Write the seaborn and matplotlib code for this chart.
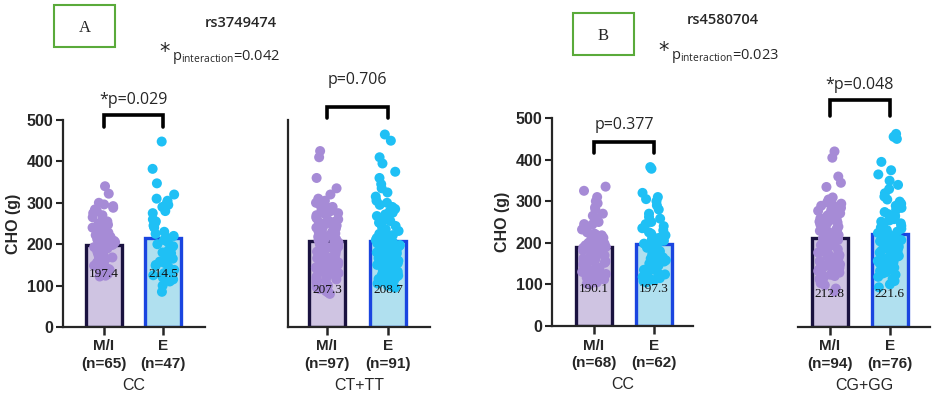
import numpy as np
import pandas as pd
import seaborn as sns
import matplotlib.pyplot as plt
from matplotlib.patches import Rectangle

# group labels and values
groups = ["M/I", "E"]
mi_color, e_color = "#a68bd6", "#1fc0f5"
bar_faces = ["#cdbfe7", "#a5e5fa"]
bar_edges = ["#1a1240", "#1a45e0"]

a_cc_mi = [340, 322, 300, 296, 292, 288, 284, 280, 275, 270, 265, 260, 255, 250, 247, 244, 240, 238, 235,
           232, 230, 228, 225, 222, 220, 218, 215, 212, 210, 208, 205, 202, 200, 198, 196, 193, 190, 188,
           185, 182, 180, 178, 175, 172, 170, 168, 165, 162, 160, 158, 155, 152, 150, 148, 145, 142, 140,
           138, 135, 132, 130, 128, 126, 124, 122]
a_cc_e = [448, 382, 347, 320, 310, 305, 298, 295, 290, 280, 275, 260, 255, 250, 245, 240, 230, 225, 220,
          215, 210, 205, 200, 195, 190, 185, 180, 178, 175, 170, 165, 160, 158, 155, 150, 148, 145, 140,
          138, 135, 130, 125, 120, 115, 110, 100, 85]
a_ct_mi = [425, 410, 360, 335, 320, 310, 305, 300, 295, 290, 288, 285, 282, 280, 275, 272, 270, 265, 262,
           260, 258, 255, 252, 250, 248, 245, 242, 240, 238, 235, 232, 230, 228, 226, 224, 222, 220, 218,
           216, 214, 212, 210, 208, 206, 204, 202, 200, 198, 196, 194, 192, 190, 188, 186, 184, 182, 180,
           178, 176, 174, 172, 170, 168, 166, 164, 162, 160, 158, 156, 154, 152, 150, 148, 146, 144, 142,
           140, 138, 135, 132, 130, 128, 125, 122, 120, 118, 115, 112, 110, 105, 100, 96, 92, 88, 85, 82, 80]
a_ct_e = [465, 450, 410, 395, 375, 360, 345, 335, 325, 315, 305, 300, 295, 290, 285, 280, 276, 272, 268,
          264, 260, 256, 252, 248, 244, 240, 236, 232, 228, 225, 222, 220, 218, 215, 212, 210, 208, 205,
          202, 200, 198, 196, 194, 192, 190, 188, 186, 184, 182, 180, 178, 176, 174, 172, 170, 168, 166,
          164, 162, 160, 158, 156, 154, 152, 150, 148, 146, 144, 142, 140, 138, 136, 134, 132, 130, 128,
          126, 124, 122, 120, 118, 116, 114, 112, 110, 108, 105, 102, 100, 98, 95]
b_cc_mi = [335, 325, 310, 300, 295, 285, 280, 270, 265, 260, 250, 245, 244, 240, 236, 232, 228, 225, 222,
           220, 218, 215, 212, 210, 208, 205, 202, 200, 198, 196, 194, 192, 190, 188, 186, 184, 182, 180,
           178, 175, 172, 170, 168, 165, 162, 160, 158, 155, 152, 150, 148, 145, 142, 140, 138, 135, 132,
           130, 128, 125, 122, 120, 116, 112, 108, 105, 102, 100]
b_cc_e = [382, 378, 320, 310, 305, 300, 290, 280, 270, 262, 258, 250, 245, 240, 235, 230, 225, 222, 218,
          215, 212, 208, 205, 202, 200, 198, 196, 194, 192, 190, 188, 186, 184, 182, 180, 176, 172, 168,
          165, 162, 160, 158, 155, 152, 150, 148, 145, 142, 140, 138, 135, 132, 130, 127, 124, 120, 118,
          115, 112, 110, 108, 105]
b_cg_mi = [420, 405, 360, 345, 335, 310, 305, 300, 298, 295, 292, 290, 288, 285, 282, 280, 278, 275, 272,
           270, 268, 265, 262, 260, 258, 255, 252, 250, 248, 245, 242, 240, 238, 235, 232, 230, 228, 225,
           222, 220, 218, 215, 212, 210, 208, 205, 202, 200, 198, 196, 194, 192, 190, 188, 186, 184, 182,
           180, 178, 176, 174, 172, 170, 168, 166, 164, 162, 160, 158, 156, 154, 152, 150, 148, 146, 144,
           142, 140, 138, 136, 134, 132, 130, 128, 125, 122, 120, 118, 115, 110, 105, 100, 92, 85]
b_cg_e = [462, 455, 450, 395, 375, 365, 350, 340, 330, 320, 312, 305, 300, 295, 290, 285, 280, 275, 270,
          266, 262, 258, 255, 252, 248, 245, 242, 238, 235, 232, 228, 225, 222, 220, 218, 215, 212, 210,
          208, 205, 202, 200, 198, 195, 192, 190, 188, 185, 182, 180, 178, 175, 172, 170, 168, 165, 162,
          160, 158, 155, 152, 150, 148, 145, 142, 140, 137, 134, 131, 128, 125, 120, 115, 110, 102, 95]

means = {"A_CC": [197.4, 214.5], "A_CT": [207.3, 208.7], "B_CC": [190.1, 197.3], "B_CG": [212.8, 221.6]}
ns = {"A_CC": [65, 47], "A_CT": [97, 91], "B_CC": [68, 62], "B_CG": [94, 76]}
genotypes = {"A_CC": "CC", "A_CT": "CT+TT", "B_CC": "CC", "B_CG": "CG+GG"}
pvals = {"A_CC": "*p=0.029", "A_CT": "p=0.706", "B_CC": "p=0.377", "B_CG": "*p=0.048"}
points = {"A_CC": (a_cc_mi, a_cc_e), "A_CT": (a_ct_mi, a_ct_e),
          "B_CC": (b_cc_mi, b_cc_e), "B_CG": (b_cg_mi, b_cg_e)}
label_y = {"A_CC": 128, "A_CT": 90, "B_CC": 88, "B_CG": 78}

sns.set_theme(style="ticks")
plt.rcParams["font.family"] = ["Liberation Sans", "DejaVu Sans"]

W, H = 935, 397
fig = plt.figure(figsize=(W / 100, H / 100), dpi=100)


def px_axes(left, right, top, bottom):
    return fig.add_axes([left / W, 1 - bottom / H, (right - left) / W, (bottom - top) / H])


# panel placement in pixels: (left, right, y=500 top, y=0 bottom, xlim, bracket top, bracket leg, p text y)
panels = {
    "A_CC": (63, 205, 120, 327, (-0.69, 1.71), 512, 483, 548, True),
    "A_CT": (288, 430, 120, 327, (-0.64, 1.69), 531, 505, 597, False),
    "B_CC": (552, 693, 118, 326, (-0.70, 1.65), 442, 416, 483, True),
    "B_CG": (798, 930, 118, 327, (-0.53, 1.67), 543, 505, 580, False),
}

np.random.seed(3)
for key, (l, r, t, b, xlim, btop, bleg, ptxt, yaxis) in panels.items():
    ax = px_axes(l, r, t, b)
    mi, e = points[key]
    pts = pd.DataFrame({"group": ["M/I"] * len(mi) + ["E"] * len(e), "CHO": mi + e})
    bars = pd.DataFrame({"group": groups, "CHO": means[key]})
    sns.barplot(data=bars, x="group", y="CHO", hue="group", order=groups, palette=bar_faces,
                width=0.6, legend=False, ax=ax, zorder=1)
    for patch, ec in zip(ax.patches, bar_edges):
        patch.set_edgecolor(ec)
        patch.set_linewidth(2.4)
    sns.stripplot(data=pts, x="group", y="CHO", hue="group", order=groups,
                  palette=[mi_color, e_color], jitter=0.2, size=7.2, linewidth=0,
                  legend=False, ax=ax, zorder=3)
    for i, m in enumerate(means[key]):
        ax.text(i, label_y[key], f"{m}", ha="center", va="center", fontsize=9.5,
                family="Liberation Serif", color="#111111", zorder=5)
    ax.set_xlim(*xlim)
    ax.set_ylim(0, 500)
    ax.set_xticks([0, 1])
    ax.set_xticklabels([f"{g}\n(n={n})" for g, n in zip(groups, ns[key])],
                       fontsize=11, fontweight="bold", linespacing=1.3)
    ax.set_xlabel(genotypes[key], fontsize=11.5, labelpad=5)
    ax.tick_params(axis="x", length=6, width=1.8, pad=3)
    ax.spines["top"].set_visible(False)
    ax.spines["right"].set_visible(False)
    ax.spines["bottom"].set_linewidth(1.6)
    ax.spines["left"].set_linewidth(1.6)
    if yaxis:
        ax.set_yticks([0, 100, 200, 300, 400, 500])
        ax.tick_params(axis="y", length=5, width=1.5, pad=2, labelsize=11.5)
        for lab in ax.get_yticklabels():
            lab.set_fontweight("bold")
        ax.set_ylabel("CHO (g)", fontsize=11.5, fontweight="bold", labelpad=4)
    else:
        ax.set_yticks([])
        ax.set_ylabel("")
        if key == "B_CG":
            ax.spines["left"].set_visible(False)
    # significance bracket
    ax.plot([0, 0, 1, 1], [bleg, btop, btop, bleg], color="black", lw=2.6,
            clip_on=False, solid_joinstyle="miter")
    ax.text(0.5, ptxt, pvals[key], ha="center", va="center", fontsize=11.5,
            family="Open Sans", clip_on=False)

# panel headers
for box_l, box_t, letter in [(54, 5, "A"), (573, 13, "B")]:
    fig.patches.append(Rectangle((box_l / W, 1 - (box_t + 42) / H), 61 / W, 42 / H,
                                 transform=fig.transFigure, fill=False, edgecolor="#5aaa3a", lw=1.5))
    fig.text((box_l + 30.5) / W, 1 - (box_t + 23) / H, letter, ha="center", va="center",
             fontsize=12, family="Liberation Serif")

fig.text(241 / W, 1 - 23 / H, "rs3749474", ha="center", va="center", fontsize=10.5,
         family="Open Sans", fontweight="semibold")
fig.text(723 / W, 1 - 20 / H, "rs4580704", ha="center", va="center", fontsize=10.5,
         family="Open Sans", fontweight="semibold")
for star_x, txt_x, y, label in [(165, 172, 57, "0.042"), (664, 671, 56, "0.023")]:
    fig.text(star_x / W, 1 - (y - 5) / H, "*", ha="center", va="center", fontsize=15,
             family="DejaVu Sans")
    fig.text(txt_x / W, 1 - y / H, r"p$_{\mathregular{interaction}}$=" + label, ha="left",
             va="center", fontsize=10.5, family="Open Sans")

fig.savefig("out.png", dpi=100)
